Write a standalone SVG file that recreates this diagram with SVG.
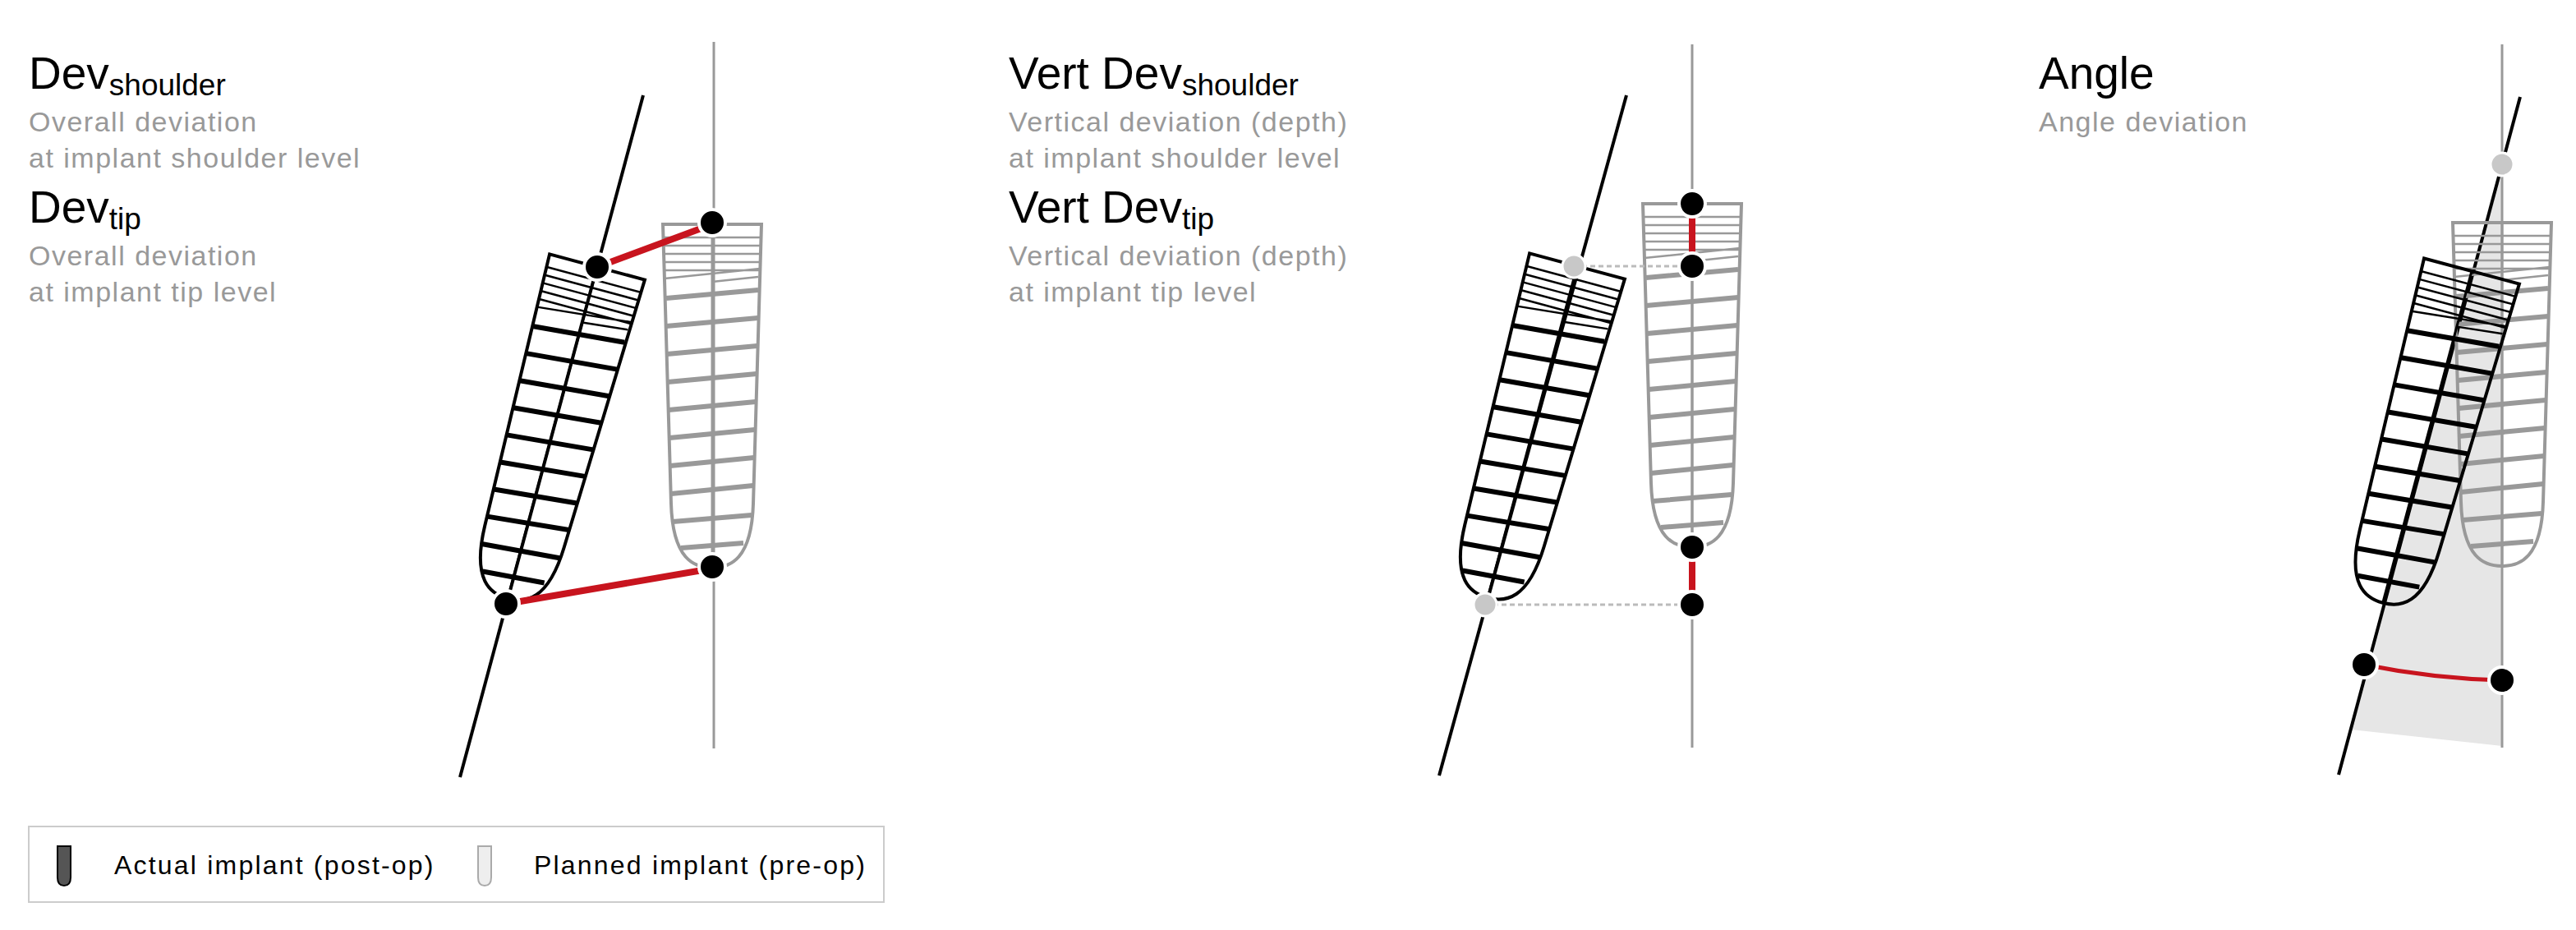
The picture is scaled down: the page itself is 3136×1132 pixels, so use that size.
<svg xmlns="http://www.w3.org/2000/svg" width="3136" height="1132" viewBox="0 0 3136 1132">
<style>
.t{font-family:"Liberation Sans",Arial,sans-serif;fill:#000}
.h{font-size:55px}
.s{font-size:37px}
.d{font-size:34px;fill:#999;letter-spacing:1.5px}
.lg{font-size:32px;letter-spacing:2.2px}
.ax{stroke:#000;stroke-width:4}
.gl{stroke:#999;stroke-width:3}
.red{stroke:#c8141e;stroke-width:8;fill:none;stroke-linecap:round}
.dot{fill:#000;stroke:#fff;stroke-width:4}
.gdot{fill:#c8c8c8;stroke:#fff;stroke-width:3}
.dash{stroke:#bbb;stroke-width:3;stroke-dasharray:6 4}
.act{stroke:#000;fill:none}
.pln{stroke:#999;fill:none}
</style>
<defs>
<g id="implant">
<path d="M-60,0 H60 L50,340 C48,408 22,418 0,418 C-22,418 -48,408 -50,340 Z" stroke-width="4"/>
<path d="M0,0 V418" stroke-width="3"/>
<path d="M-59,16 H59 M-59,26 H59 M-59,36 H59 M-58,46 H58 M-58,56 H58 M-58,66 L58,54 M0,70 L56,64" stroke-width="2.5"/>
<path d="M-56,90 L56,80 M-56,124 L56,114 M-55,158 L55,148 M-54,192 L54,182 M-53,226 L53,216 M-52,260 L52,250 M-51,294 L51,284 M-50,328 L50,318 M-48,362 L48,354 M-38,394 L38,388" stroke-width="6"/>
</g>
</defs>

<g id="panel1">
<text class="t h" x="35" y="108">Dev<tspan class="s" dy="8">shoulder</tspan></text>
<text class="t d" x="35" y="160">Overall deviation</text>
<text class="t d" x="35" y="204">at implant shoulder level</text>
<text class="t h" x="35" y="271">Dev<tspan class="s" dy="8">tip</tspan></text>
<text class="t d" x="35" y="323">Overall deviation</text>
<text class="t d" x="35" y="367">at implant tip level</text>
</g>
<g id="panel2">
<text class="t h" x="1228" y="108">Vert Dev<tspan class="s" dy="8">shoulder</tspan></text>
<text class="t d" x="1228" y="160">Vertical deviation (depth)</text>
<text class="t d" x="1228" y="204">at implant shoulder level</text>
<text class="t h" x="1228" y="271">Vert Dev<tspan class="s" dy="8">tip</tspan></text>
<text class="t d" x="1228" y="323">Vertical deviation (depth)</text>
<text class="t d" x="1228" y="367">at implant tip level</text>
</g>
<g id="panel3">
<text class="t h" x="2482" y="108">Angle</text>
<text class="t d" x="2482" y="160">Angle deviation</text>
</g>

<g id="connectors">
<polygon points="3046,200 2862,888 3046,908" fill="#e6e6e6"/>
<line class="gl" x1="869" y1="51" x2="869" y2="911"/>
<line class="ax" x1="783" y1="116" x2="560" y2="946"/>
<line class="gl" x1="2060" y1="54" x2="2060" y2="910"/>
<line class="ax" x1="1980" y1="116" x2="1752" y2="944"/>
<line class="gl" x1="3046" y1="54" x2="3046" y2="910"/>
<line class="ax" x1="3068" y1="118" x2="2847" y2="943"/>
</g>

<g id="implants">
<use href="#implant" class="pln" transform="translate(867,273)"/>
<use href="#implant" class="act" transform="translate(727,325) rotate(15.1)"/>
<use href="#implant" class="pln" transform="translate(2060,248)"/>
<use href="#implant" class="act" transform="translate(1920,324) rotate(15.1)"/>
<use href="#implant" class="pln" transform="translate(3046,271)"/>
<use href="#implant" class="act" transform="translate(3009,330) rotate(15)"/>
</g>

<g id="measures">
<line class="red" x1="727" y1="325" x2="867" y2="273"/>
<line class="red" x1="616" y1="735" x2="867" y2="692"/>
<line class="dash" x1="1916" y1="324" x2="2060" y2="324"/>
<line class="dash" x1="1808" y1="736" x2="2060" y2="736"/>
<line class="red" x1="2060" y1="248" x2="2060" y2="324"/>
<line class="red" x1="2060" y1="666" x2="2060" y2="736"/>
<path class="red" style="stroke-width:5" d="M2878,809 Q2962,826 3046,828"/>
</g>

<g id="dots">
<circle class="dot" cx="727" cy="325" r="16"/>
<circle class="dot" cx="867" cy="271" r="16"/>
<circle class="dot" cx="616" cy="735" r="16"/>
<circle class="dot" cx="867" cy="690" r="16"/>
<circle class="dot" cx="2060" cy="248" r="16"/>
<circle class="dot" cx="2060" cy="324" r="16"/>
<circle class="gdot" cx="1916" cy="324" r="14"/>
<circle class="dot" cx="2060" cy="666" r="16"/>
<circle class="dot" cx="2060" cy="736" r="16"/>
<circle class="gdot" cx="1808" cy="736" r="14"/>
<circle class="gdot" cx="3046" cy="200" r="14"/>
<circle class="dot" cx="2878" cy="809" r="16"/>
<circle class="dot" cx="3046" cy="828" r="16"/>
</g>

<g id="legend">
<rect x="35" y="1006" width="1041" height="92" fill="#fff" stroke="#ccc" stroke-width="2"/>
<path d="M70,1030 H86 V1068 Q86,1078 78,1078 Q70,1078 70,1068 Z" fill="#555" stroke="#000" stroke-width="2"/>
<text class="t lg" x="139" y="1064">Actual implant (post-op)</text>
<path d="M582,1030 H598 V1068 Q598,1078 590,1078 Q582,1078 582,1068 Z" fill="#eee" stroke="#aaa" stroke-width="2"/>
<text class="t lg" x="650" y="1064">Planned implant (pre-op)</text>
</g>
</svg>
